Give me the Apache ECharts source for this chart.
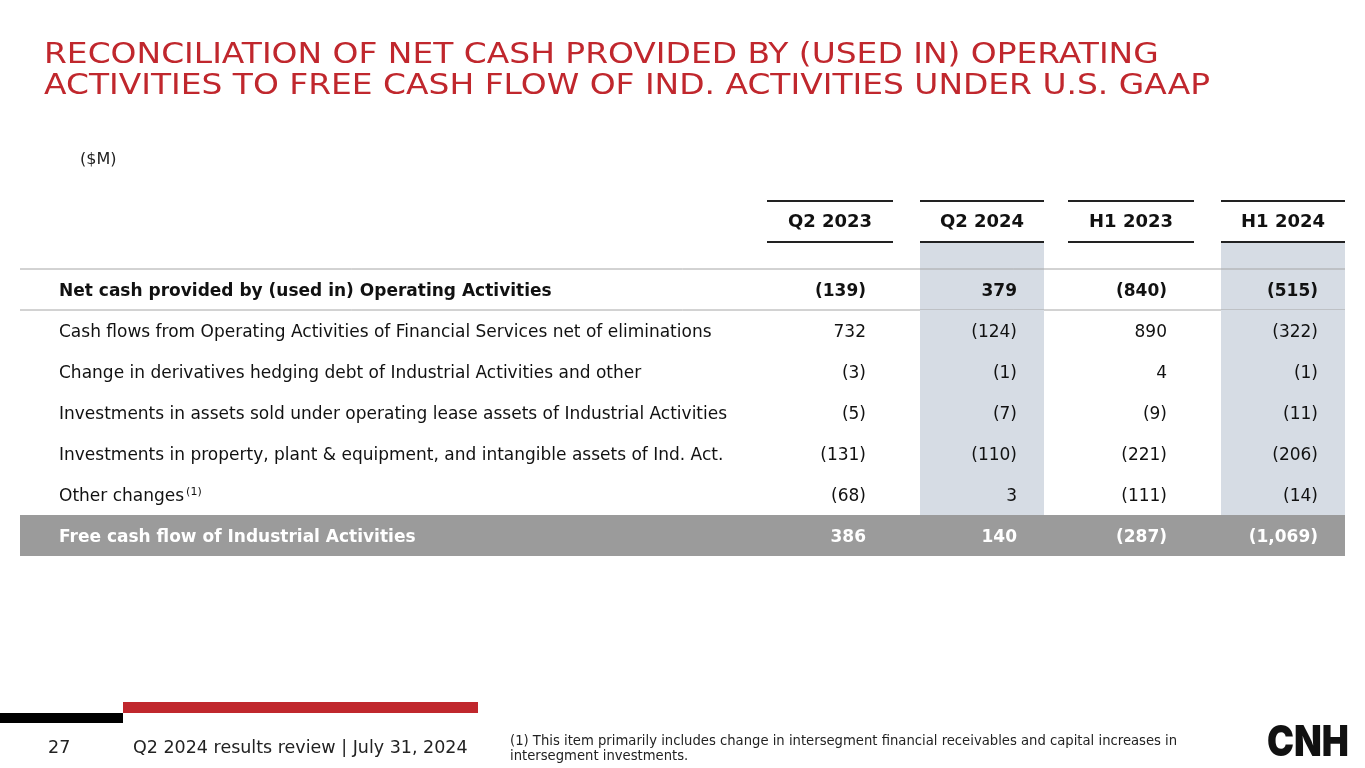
<!DOCTYPE html>
<html>
<head>
<meta charset="utf-8">
<title>Free cash flow reconciliation</title>
<script src="https://cdn.jsdelivr.net/npm/echarts@6/dist/echarts.min.js"></script>
<style>
html, body { margin: 0; padding: 0; background: #fff; }
#main { width: 1365px; height: 768px; }
</style>
</head>
<body>
<div id="main"></div>
<script>
// table data
var rowLabels = [
    'Net cash provided by (used in) Operating Activities',
    'Cash flows from Operating Activities of Financial Services net of eliminations',
    'Change in derivatives hedging debt of Industrial Activities and other',
    'Investments in assets sold under operating lease assets of Industrial Activities',
    'Investments in property, plant & equipment, and intangible assets of Ind. Act.',
    'Other changes',
    'Free cash flow of Industrial Activities'
];
var columns = ['Q2 2023', 'Q2 2024', 'H1 2023', 'H1 2024'];
var q2_2023 = [-139, 732, -3, -5, -131, -68, 386];
var q2_2024 = [379, -124, -1, -7, -110, 3, 140];
var h1_2023 = [-840, 890, 4, -9, -221, -111, -287];
var h1_2024 = [-515, -322, -1, -11, -206, -14, -1069];
var footnoteRow = 5;

// layout
var FONT = 'DejaVu Sans';
var RED = '#C0272D';
var colLeft = [767, 920, 1068, 1221];
var colRight = [893, 1044, 1194, 1345];
var shaded = [false, true, false, true];
var tableLeft = 20, tableRight = 1345;

function fmt(v) {
    var s = Math.abs(v).toLocaleString('en-US');
    return v < 0 ? '(' + s + ')' : s;
}

var tableData = rowLabels.map(function (label, i) {
    return [0, i, q2_2023[i], q2_2024[i], h1_2023[i], h1_2024[i]];
});

var myChart = echarts.init(document.getElementById('main'));

var graphics = [
    // title, stretched a little to get the wide spacing of the slide
    { type: 'text', x: 44, y: 40, scaleX: 1.175, style: {
        text: 'RECONCILIATION OF NET CASH PROVIDED BY (USED IN) OPERATING\nACTIVITIES TO FREE CASH FLOW OF IND. ACTIVITIES UNDER U.S. GAAP',
        fontFamily: FONT, fontSize: 28, lineHeight: 31, fill: RED, verticalAlign: 'top' } },
    { type: 'text', x: 80, y: 160, style: { text: '($M)', fontFamily: FONT, fontSize: 16, fill: '#222', verticalAlign: 'middle' } },
    // footer
    { type: 'rect', shape: { x: 0, y: 713, width: 123, height: 10 }, style: { fill: '#000' } },
    { type: 'rect', shape: { x: 123, y: 702, width: 355, height: 11 }, style: { fill: RED } },
    { type: 'text', x: 48, y: 748, style: { text: '27', fontFamily: FONT, fontSize: 17.5, fill: '#222', verticalAlign: 'middle' } },
    { type: 'text', x: 133, y: 748, style: { text: 'Q2 2024 results review | July 31, 2024', fontFamily: FONT, fontSize: 17.5, fill: '#222', verticalAlign: 'middle' } },
    { type: 'text', x: 510, y: 734, style: {
        text: '(1) This item primarily includes change in intersegment financial receivables and capital increases in\nintersegment investments.',
        fontFamily: FONT, fontSize: 13.2, lineHeight: 15, fill: '#222', verticalAlign: 'top' } },
    { type: 'text', x: 1267, y: 743, scaleX: 0.86, style: { text: 'CNH', fontFamily: 'Inter', fontWeight: 900, fontSize: 42, fill: '#111', verticalAlign: 'middle' } }
];

// column headers
columns.forEach(function (name, j) {
    graphics.push({ type: 'line', shape: { x1: colLeft[j], y1: 201, x2: colRight[j], y2: 201 }, style: { stroke: '#222', lineWidth: 2 } });
    graphics.push({ type: 'line', shape: { x1: colLeft[j], y1: 242, x2: colRight[j], y2: 242 }, style: { stroke: '#222', lineWidth: 2 } });
    graphics.push({ type: 'text', x: (colLeft[j] + colRight[j]) / 2, y: 222, style: {
        text: name, fontFamily: FONT, fontWeight: 'bold', fontSize: 18, fill: '#111', align: 'center', verticalAlign: 'middle' } });
    if (shaded[j]) {
        graphics.push({ type: 'rect', z: -1, shape: { x: colLeft[j], y: 243, width: colRight[j] - colLeft[j], height: 26 }, style: { fill: '#D6DCE4' } });
    }
});

option = {
    backgroundColor: '#fff',
    animation: false,
    grid: { left: 0, right: 0, top: 269, height: 287 },
    xAxis: { type: 'value', min: 0, max: 1365, show: false },
    yAxis: { type: 'category', data: rowLabels, inverse: true, show: false },
    graphic: graphics,
    series: [
        {
            type: 'custom',
            data: tableData,
            encode: { x: 0, y: 1 },
            renderItem: function (params, api) {
                var i = api.value(1);
                var p = api.coord([0, i]);
                var h = api.size([0, 1])[1];
                var top = p[1] - h / 2;
                var yc = p[1] + 2;
                var last = i === rowLabels.length - 1;
                var bold = i === 0 || last;
                var color = last ? '#fff' : '#111';
                var xAt = function (px) { return api.coord([px, i])[0]; };
                var children = [];

                if (last) {
                    children.push({ type: 'rect', shape: { x: xAt(tableLeft), y: top, width: xAt(tableRight) - xAt(tableLeft), height: h }, style: { fill: '#9B9B9B' } });
                } else {
                    colLeft.forEach(function (l, j) {
                        if (shaded[j]) {
                            children.push({ type: 'rect', shape: { x: xAt(l), y: top, width: xAt(colRight[j]) - xAt(l), height: h }, style: { fill: '#D6DCE4' } });
                        }
                    });
                }
                if (i === 0) {
                    children.push({ type: 'line', shape: { x1: xAt(tableLeft), y1: top, x2: xAt(tableRight), y2: top }, style: { stroke: '#A6A6A6', lineWidth: 1 } });
                    children.push({ type: 'line', shape: { x1: xAt(tableLeft), y1: top + h, x2: xAt(tableRight), y2: top + h }, style: { stroke: '#A6A6A6', lineWidth: 1 } });
                }

                var labelText = i === footnoteRow ? rowLabels[i] + '{sup|(1)}' : rowLabels[i];
                children.push({ type: 'text', style: {
                    x: xAt(59), y: yc, text: labelText, fontFamily: FONT, fontSize: 17,
                    fontWeight: bold ? 'bold' : 'normal', fill: color, verticalAlign: 'middle',
                    rich: { sup: { fontSize: 11, fontFamily: FONT, fill: color, verticalAlign: 'top', padding: [0, 0, 9, 2] } }
                } });
                for (var j = 0; j < 4; j++) {
                    children.push({ type: 'text', style: {
                        x: xAt(colRight[j] - 27), y: yc, text: fmt(api.value(2 + j)), fontFamily: FONT, fontSize: 17,
                        fontWeight: bold ? 'bold' : 'normal', fill: color, align: 'right', verticalAlign: 'middle'
                    } });
                }
                return { type: 'group', children: children };
            }
        }
    ]
};

myChart.setOption(option);
</script>
</body>
</html>
